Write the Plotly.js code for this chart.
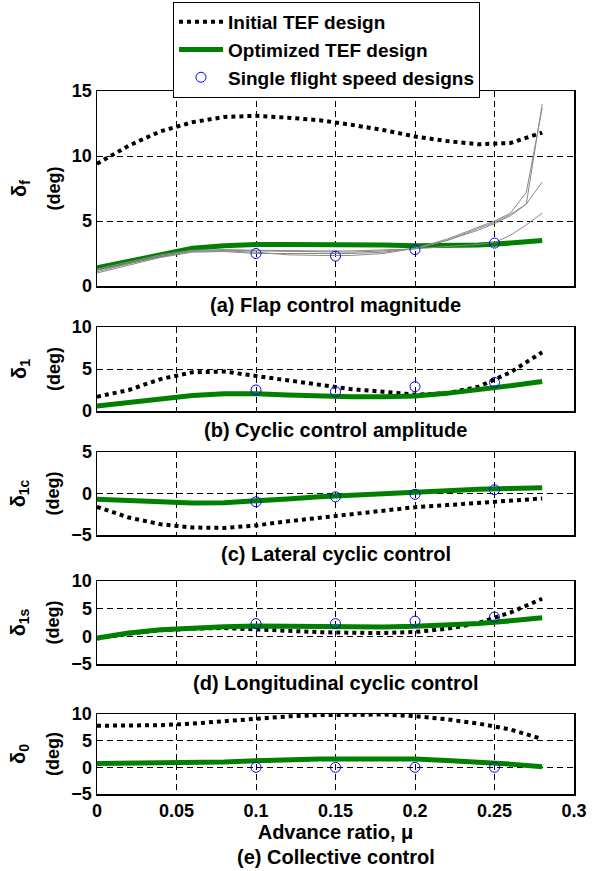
<!DOCTYPE html>
<html><head><meta charset="utf-8">
<script src="https://cdn.plot.ly/plotly-3.0.1.min.js"></script>
<style>html,body{margin:0;padding:0;background:#fff}#chart{width:594px;height:871px}</style>
</head><body><div id="chart"></div><script>
// ---- data ----
const mu = [0,0.02,0.04,0.06,0.08,0.10,0.12,0.14,0.16,0.18,0.20,0.22,0.24,0.26,0.28];
const muGray = [0,0.02,0.04,0.06,0.08,0.10,0.12,0.14,0.16,0.18,0.20,0.22,0.24,0.25,0.26,0.27,0.28];
const muDesign = [0.1,0.15,0.2,0.25];
const xTickVals = [0,0.05,0.1,0.15,0.2,0.25,0.3];
const xTickText = ['0','0.05','0.1','0.15','0.2','0.25','0.3'];

const flapInitial   = [9.4,10.8,11.9,12.6,13.0,13.1,12.95,12.75,12.4,12.0,11.5,11.15,10.9,11.0,11.8];
const flapOptimized = [1.4,1.9,2.45,2.9,3.1,3.2,3.2,3.2,3.2,3.15,3.1,3.1,3.15,3.3,3.5];
const flapDesign    = [2.5,2.3,2.8,3.3];
const flapGray1 = [1.0,1.6,2.2,2.6,2.65,2.5,2.5,2.5,2.5,2.6,2.9,3.5,4.3,4.8,5.4,6.3,14.0];
const flapGray2 = [1.2,1.75,2.3,2.7,2.7,2.6,2.4,2.35,2.35,2.5,2.9,3.6,4.5,5.0,5.6,7.2,13.7];
const flapGray3 = [1.3,1.85,2.4,2.75,2.8,2.75,2.7,2.7,2.7,2.75,2.85,3.5,4.4,4.9,5.5,6.3,8.0];
const flapGray4 = [1.1,1.7,2.3,2.65,2.75,2.7,2.65,2.6,2.6,2.7,2.85,3.0,3.2,3.35,3.9,4.7,5.6];

const cyclicInitial   = [1.7,2.5,3.8,4.6,4.7,4.2,3.7,3.1,2.6,2.3,1.95,2.1,2.9,4.6,7.0];
const cyclicOptimized = [0.6,1.0,1.5,1.85,2.05,2.05,1.9,1.75,1.7,1.7,1.8,2.1,2.5,3.0,3.5];
const cyclicDesign    = [2.5,2.3,2.9,3.4];

const latInitial   = [-1.6,-2.9,-3.7,-4.1,-4.15,-3.85,-3.35,-2.9,-2.45,-2.0,-1.65,-1.4,-1.15,-0.85,-0.6];
const latOptimized = [-0.7,-0.9,-1.1,-1.15,-1.1,-0.95,-0.65,-0.4,-0.2,-0.05,0.15,0.35,0.5,0.6,0.7];
const latDesign    = [-1.0,-0.4,-0.1,0.45];

const lonInitial   = [-0.4,0.5,1.1,1.4,1.5,1.25,0.95,0.75,0.65,0.6,0.8,1.35,2.4,4.3,6.8];
const lonOptimized = [-0.3,0.6,1.2,1.5,1.75,1.85,1.8,1.7,1.7,1.7,1.8,2.05,2.3,2.8,3.35];
const lonDesign    = [2.3,2.3,2.75,3.5];

const colInitial   = [7.8,7.8,7.9,8.2,8.7,9.2,9.55,9.8,9.9,9.9,9.6,9.0,8.2,7.1,5.3];
const colOptimized = [0.7,0.75,0.9,0.9,1.0,1.25,1.5,1.55,1.55,1.55,1.55,1.3,1.0,0.6,0.1];
const colDesign    = [0,0,0,0];

const panelTitles = ['(a) Flap control magnitude','(b) Cyclic control amplitude','(c) Lateral cyclic control','(d) Longitudinal cyclic control','(e) Collective control'];
const ySymbols = ['δ<sub>f</sub>','δ<sub>1</sub>','δ<sub>1c</sub>','δ<sub>1s</sub>','δ<sub>0</sub>'];
const yUnit = '(deg)';
const yRanges = [[0,15],[0,10],[-5,5],[-5,10],[-5,10]];
const yTicks = [[0,5,10,15],[0,5,10],[-5,0,5],[-5,0,5,10],[-5,0,5,10]];
const legendNames = ['Initial TEF design','Optimized TEF design','Single flight speed designs'];

// ---- layout geometry (pixels) ----
const W = 594, H = 871;
const xLeft = 97, xRight = 574;
const panelPx = [[91,286],[327,411],[452,535],[581,664],[714,794]];

const FONT = 'Liberation Sans, Arial, Helvetica, sans-serif';
const bold = (s) => ({family: FONT, size: s, color: '#000', weight: 'bold'});

const initialSets = [flapInitial, cyclicInitial, latInitial, lonInitial, colInitial];
const optSets = [flapOptimized, cyclicOptimized, latOptimized, lonOptimized, colOptimized];
const designSets = [flapDesign, cyclicDesign, latDesign, lonDesign, colDesign];
const grays = [flapGray1, flapGray2, flapGray3, flapGray4];

const traces = [];
const layout = {
  width: W, height: H,
  margin: {l:0, r:0, t:0, b:0},
  paper_bgcolor: '#fff', plot_bgcolor: '#fff',
  showlegend: true,
  legend: {
    x: 173/W, y: 1 - 2/H, xanchor: 'left', yanchor: 'top',
    bordercolor: '#000', borderwidth: 1, bgcolor: '#fff',
    font: bold(19), tracegroupgap: 0, itemwidth: 44
  },
  annotations: []
};

for (let i = 0; i < 5; i++) {
  const n = i === 0 ? '' : String(i + 1);
  const xa = 'x' + n, ya = 'y' + n;
  const first = i === 0;
  traces.push({x: mu, y: initialSets[i], xaxis: xa, yaxis: ya, type: 'scatter', mode: 'lines',
    name: legendNames[0], legendgroup: 'init', showlegend: first,
    line: {color: '#000', width: 4, dash: '4px,4px'}});
  traces.push({x: mu, y: optSets[i], xaxis: xa, yaxis: ya, type: 'scatter', mode: 'lines',
    name: legendNames[1], legendgroup: 'opt', showlegend: first,
    line: {color: '#008000', width: 5}});
  if (first) {
    grays.forEach(g => traces.push({x: muGray, y: g, xaxis: xa, yaxis: ya, type: 'scatter', mode: 'lines',
      showlegend: false, hoverinfo: 'skip', line: {color: '#8a8a8a', width: 1}}));
  }
  traces.push({x: muDesign, y: designSets[i], xaxis: xa, yaxis: ya, type: 'scatter', mode: 'markers',
    name: legendNames[2], legendgroup: 'single', showlegend: first,
    marker: {symbol: 'circle-open', color: '#0000ff', size: 10, line: {width: 1, color: '#0000ff'}}});

  const [top, bot] = panelPx[i];
  layout['xaxis' + n] = {
    domain: [xLeft/W, xRight/W], range: [0, 0.3], anchor: ya,
    tickvals: xTickVals, ticktext: xTickText, showticklabels: i === 4,
    tickfont: bold(18), ticks: '', showline: true, mirror: true, linecolor: '#000', linewidth: 1.5,
    showgrid: true, gridcolor: '#000', gridwidth: 1, griddash: '6px,4px', zeroline: false,
    automargin: false, fixedrange: true,
    title: i === 4 ? {text: 'Advance ratio, μ', font: bold(20), standoff: 2} : undefined
  };
  layout['yaxis' + n] = {
    domain: [1 - bot/H, 1 - top/H], range: yRanges[i], anchor: xa,
    tickvals: yTicks[i], tickfont: bold(18), ticks: '',
    showline: true, mirror: true, linecolor: '#000', linewidth: 1.5,
    showgrid: true, gridcolor: '#000', gridwidth: 1, griddash: '6px,4px', zeroline: false,
    automargin: false, fixedrange: true,
    title: {
      text: '<span style="font-size:20px">' + ySymbols[i] + '</span><br><span style="font-size:18px">' + yUnit + '</span>',
      font: bold(26), standoff: 4
    }
  };
  const titleY = i === 4 ? 857 : bot + 19;
  layout.annotations.push({text: panelTitles[i], xref: 'paper', yref: 'paper',
    x: (xLeft + xRight) / 2 / W, y: 1 - titleY / H, xanchor: 'center', yanchor: 'middle',
    showarrow: false, font: bold(20)});
}

Plotly.newPlot('chart', traces, layout, {displayModeBar: false, staticPlot: true});
</script></body></html>
